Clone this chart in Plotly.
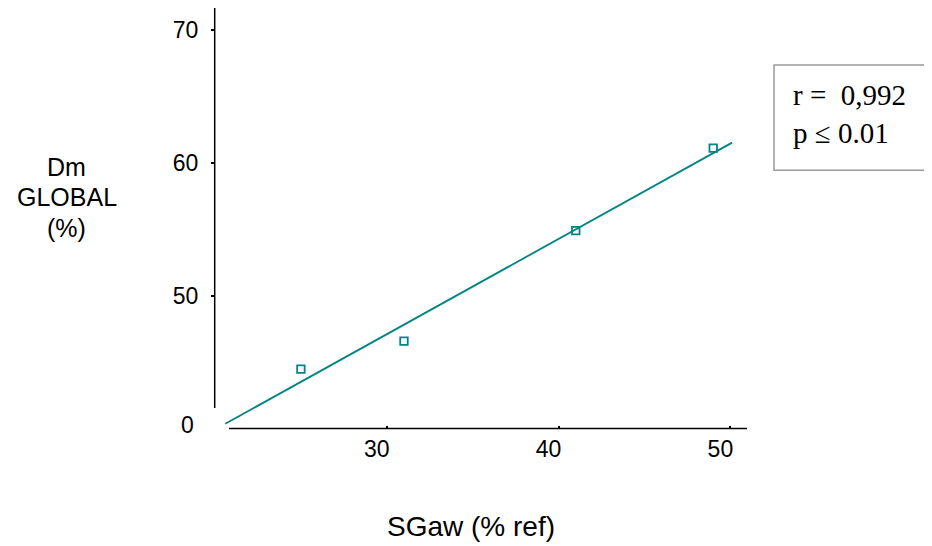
import numpy as np
import plotly.graph_objects as go

# Data
sgaw = [25, 31, 41, 49]               # SGaw (% ref)
dm_global = [44.5, 46.6, 54.9, 61.1]  # Dm GLOBAL (%)
fit_range = [20.6, 50.1]              # x extent of regression line
x_tickvals = [30, 40, 50]
x_ticktext = ["30", "40", "50"]
y_tickvals = [50, 60, 70]
y_ticktext = ["50", "60", "70"]
y_break_label = "0"
y_title_lines = ["Dm", "GLOBAL", "(%)"]
x_title = "SGaw (% ref)"
stats_lines = ["r =\u00a0 0,992", "p \u2264 0.01"]

slope, intercept = np.polyfit(sgaw, dm_global, 1)
fx = np.array(fit_range)
fy = slope * fx + intercept

OFF = 8  # page body margin
W, H = 932 - OFF, 546 - OFF
L, R, T, B = 215 - OFF, 185, 0, 117
PW, PH = W - L - R, H - T - B
XR = [20, 20 + PW / 17.18]
YR = [40, 40 + PH / 13.31]

def px(xp):
    return (xp - OFF - L) / PW

def py(yp):
    return (H - B - (yp - OFF)) / PH

teal = "#008583"
font_sans = "Arial, Liberation Sans, sans-serif"
font_serif = "Times New Roman, Liberation Serif, serif"

fig = go.Figure()
fig.add_trace(go.Scatter(x=fx, y=fy, mode="lines",
                         line=dict(color=teal, width=1.8),
                         hoverinfo="skip", showlegend=False))
fig.add_trace(go.Scatter(x=sgaw, y=dm_global, mode="markers",
                         marker=dict(symbol="square-open", size=7.5,
                                     color=teal, line=dict(width=1.8, color=teal)),
                         showlegend=False))

annotations = [
    dict(text=y_break_label, xref="paper", yref="paper",
         x=px(196), y=py(424.5), xanchor="right", yanchor="middle",
         showarrow=False, font=dict(family=font_sans, size=23, color="black")),
    dict(text=x_title, xref="paper", yref="paper",
         x=px(471), y=py(526), xanchor="center", yanchor="middle",
         showarrow=False, font=dict(family=font_sans, size=28, color="black")),
    dict(text="<br>".join(stats_lines), xref="paper", yref="paper",
         x=px(791), y=py(114), xanchor="left", yanchor="middle",
         showarrow=False, align="left",
         font=dict(family=font_serif, size=29, color="black")),
]
for line_text, yc in zip(y_title_lines, [167, 197, 228]):
    annotations.append(dict(text=line_text, xref="paper", yref="paper",
                            x=px(66.5), y=py(yc), xanchor="center", yanchor="middle",
                            showarrow=False,
                            font=dict(family=font_sans, size=25, color="black")))

fig.update_layout(
    width=W, height=H,
    margin=dict(l=L, r=R, t=T, b=B, pad=0),
    paper_bgcolor="white", plot_bgcolor="white",
    xaxis=dict(range=XR, showgrid=False, zeroline=False, showline=False,
               tickvals=x_tickvals, ticktext=x_ticktext,
               ticks="inside", ticklen=3, tickwidth=2, tickcolor="black",
               ticklabelshift=-10, ticklabelstandoff=4,
               tickfont=dict(family=font_sans, size=23, color="black")),
    yaxis=dict(range=YR, showgrid=False, zeroline=False, showline=False,
               tickvals=y_tickvals, ticktext=y_ticktext,
               ticks="outside", ticklen=3, tickwidth=2, tickcolor="black",
               ticklabelstandoff=8,
               tickfont=dict(family=font_sans, size=23, color="black")),
    shapes=[
        dict(type="line", xref="paper", yref="paper",
             x0=px(229), x1=1, y0=py(428.4), y1=py(428.4),
             line=dict(color="black", width=1.5)),
        dict(type="line", xref="paper", yref="paper",
             x0=px(214.7), x1=px(214.7), y0=py(408), y1=1,
             line=dict(color="black", width=1.5)),
        dict(type="rect", xref="paper", yref="paper",
             x0=px(774), x1=px(945), y0=py(170.3), y1=py(65),
             line=dict(color="#9a9a9a", width=1.5), fillcolor="white", layer="below"),
    ],
    annotations=annotations,
)

fig.write_html("out.html")
